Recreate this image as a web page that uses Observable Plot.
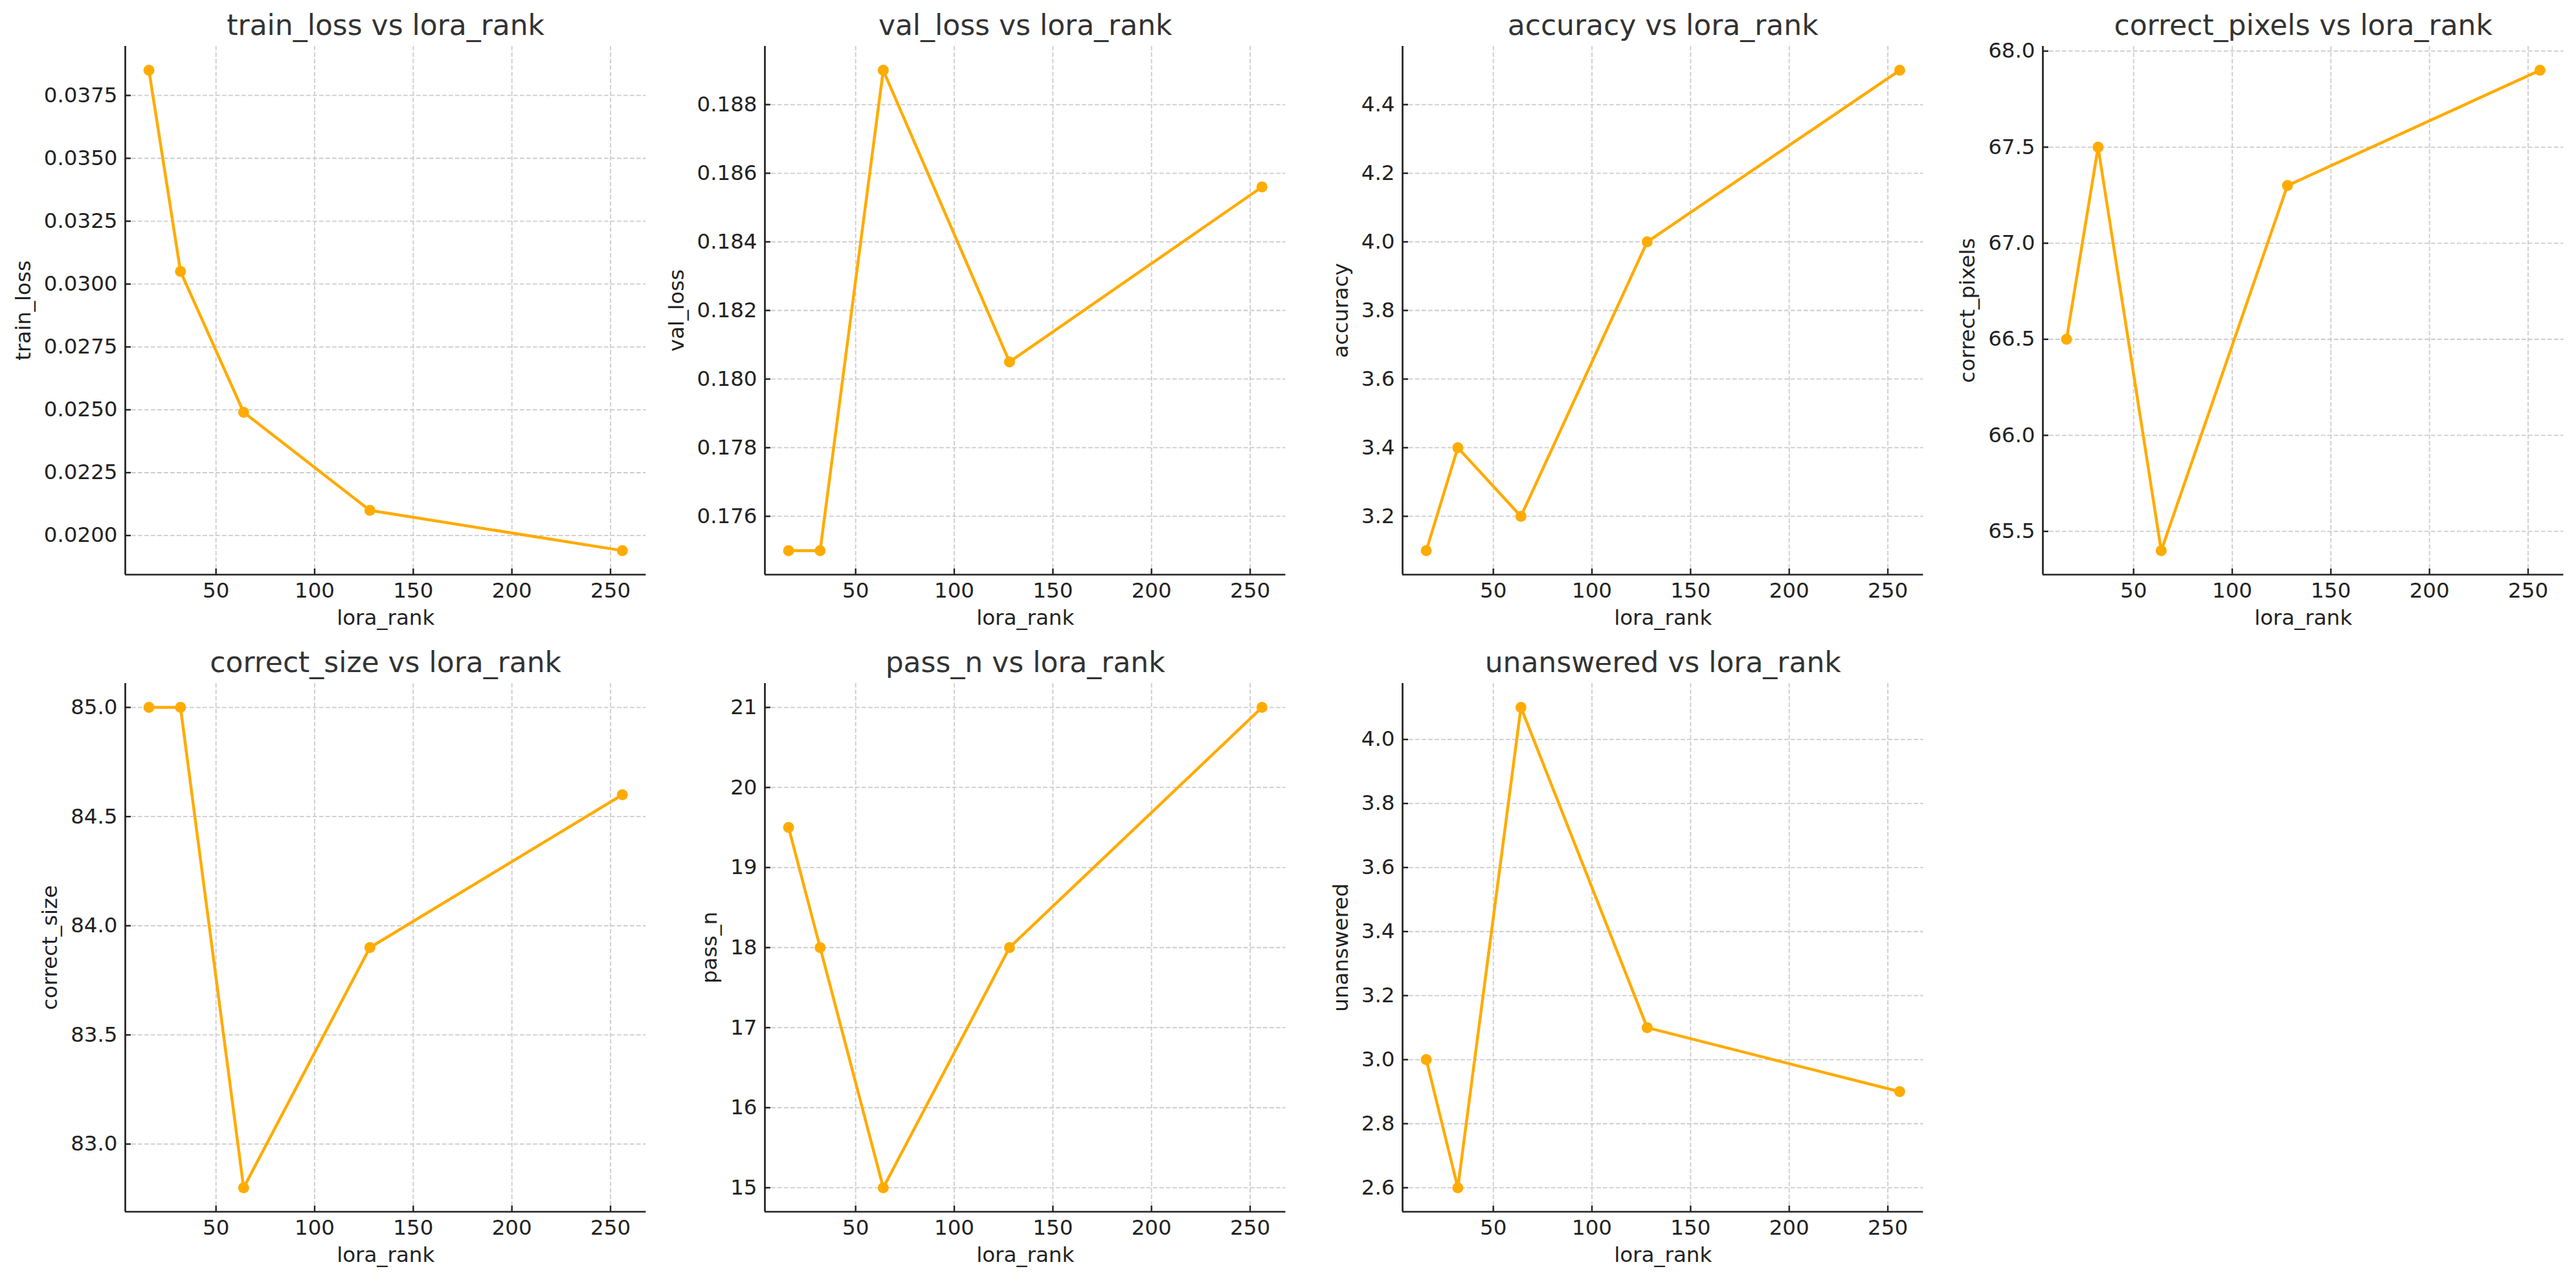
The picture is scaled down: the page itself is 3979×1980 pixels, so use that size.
<!DOCTYPE html>
<html>
<head>
<meta charset="utf-8">
<script src="https://cdn.jsdelivr.net/npm/d3@7"></script>
<script src="https://cdn.jsdelivr.net/npm/@observablehq/plot@0.6"></script>
<style>
html, body { margin: 0; padding: 0; background: #fff; }
#chart { position: relative; width: 3979px; height: 1980px; background: #fff; overflow: hidden; }
#chart svg { position: absolute; overflow: visible; max-width: none; background: transparent; }
</style>
</head>
<body>
<div id="chart"></div>
<script>
// ---- data ----
const loraRank = [16, 32, 64, 128, 256];
const trainLoss = [0.0385, 0.0305, 0.0249, 0.0210, 0.0194];
const valLoss = [0.1750, 0.1750, 0.1890, 0.1805, 0.1856];
const accuracy = [3.1, 3.4, 3.2, 4.0, 4.5];
const correctPixels = [66.5, 67.5, 65.4, 67.3, 67.9];
const correctSize = [85.0, 85.0, 82.8, 83.9, 84.6];
const passN = [19.5, 18, 15, 18, 21];
const unanswered = [3.0, 2.6, 4.1, 3.1, 2.9];

// ---- tick labels ----
const xTicks = [50, 100, 150, 200, 250];
const trainLossTicks = [0.0200, 0.0225, 0.0250, 0.0275, 0.0300, 0.0325, 0.0350, 0.0375];
const valLossTicks = [0.176, 0.178, 0.180, 0.182, 0.184, 0.186, 0.188];
const accuracyTicks = [3.2, 3.4, 3.6, 3.8, 4.0, 4.2, 4.4];
const correctPixelsTicks = [65.5, 66.0, 66.5, 67.0, 67.5, 68.0];
const correctSizeTicks = [83.0, 83.5, 84.0, 84.5, 85.0];
const passNTicks = [15, 16, 17, 18, 19, 20, 21];
const unansweredTicks = [2.6, 2.8, 3.0, 3.2, 3.4, 3.6, 3.8, 4.0];

const xName = "lora_rank";
const metricNames = ["train_loss", "val_loss", "accuracy", "correct_pixels", "correct_size", "pass_n", "unanswered"];
const metricValues = [trainLoss, valLoss, accuracy, correctPixels, correctSize, passN, unanswered];
const metricTicks = [trainLossTicks, valLossTicks, accuracyTicks, correctPixelsTicks, correctSizeTicks, passNTicks, unansweredTicks];
const metricDigits = [4, 3, 1, 1, 1, 0, 1];

// ---- layout / style ----
const colLeft = [192.5, 1181.4, 2166, 3154.5];
const rowTop = [71, 1055];
const frameW = 804.4, frameH = 816;
const ML = 210, MT = 90, MR = 20, MB = 110;
const COLOR = "#ffab00";
const INK = "#222222";
const TICK_FS = 32.5, TITLE_FS = 44;
const FONT = '"DejaVu Sans", "Liberation Sans", sans-serif';

const ctx = document.createElement("canvas").getContext("2d");
ctx.font = `${TICK_FS}px "DejaVu Sans"`;

const chart = document.getElementById("chart");

metricNames.forEach((name, i) => {
  const values = metricValues[i];
  const ticks = metricTicks[i];
  const fmt = d3.format(`.${metricDigits[i]}f`);
  const data = loraRank.map((r, j) => ({rank: r, value: values[j]}));

  const [x0, x1] = d3.extent(loraRank);
  const xPad = (x1 - x0) * 0.05;
  const xDomain = [x0 - xPad, x1 + xPad];
  const [y0, y1] = d3.extent(values);
  const yPad = (y1 - y0) * 0.05;
  const yDomain = [y0 - yPad, y1 + yPad];

  const maxTickW = d3.max(ticks, t => ctx.measureText(fmt(t)).width);
  const yLabelOffset = maxTickW + 12 + 13 + 7.7 + 0.71 * TICK_FS;

  const col = i % 4, row = Math.floor(i / 4);

  const svg = Plot.plot({
    width: ML + frameW + MR,
    height: MT + frameH + MB,
    marginLeft: ML, marginTop: MT, marginRight: MR, marginBottom: MB,
    style: {fontFamily: FONT, fontSize: `${TICK_FS}px`, color: INK, background: "transparent", overflow: "visible"},
    x: {domain: xDomain, nice: false},
    y: {domain: yDomain, nice: false},
    marks: [
      Plot.gridX(xTicks, {stroke: "#cccccc", strokeOpacity: 1, strokeWidth: 1.8, strokeDasharray: "6.7,3.3"}),
      Plot.gridY(ticks, {stroke: "#cccccc", strokeOpacity: 1, strokeWidth: 1.8, strokeDasharray: "6.7,3.3"}),
      Plot.ruleX([xDomain[0]], {stroke: INK, strokeWidth: 2.7}),
      Plot.ruleY([yDomain[0]], {stroke: INK, strokeWidth: 2.7}),
      Plot.tickX(xTicks, {x: d => d, stroke: INK, strokeWidth: 2.4, insetTop: frameH - 9}),
      Plot.tickY(ticks, {y: d => d, stroke: INK, strokeWidth: 2.4, insetRight: frameW - 9}),
      Plot.line(data, {x: "rank", y: "value", stroke: COLOR, strokeWidth: 4.5}),
      Plot.dot(data, {x: "rank", y: "value", r: 8.5, fill: COLOR, stroke: "none"}),
      Plot.axisX({
        ticks: xTicks, tickSize: 0, tickPadding: 12, tickFormat: d => String(d),
        label: xName, labelAnchor: "center", labelArrow: "none", labelOffset: 78,
        color: INK, fontSize: TICK_FS
      }),
      Plot.axisY({
        ticks: ticks, tickSize: 0, tickPadding: 12, tickFormat: fmt,
        label: name, labelAnchor: "center", labelArrow: "none", labelOffset: yLabelOffset,
        color: INK, fontSize: TICK_FS
      }),
      Plot.text([`${name} vs ${xName}`], {
        text: d => d, frameAnchor: "top", dy: -17, lineAnchor: "bottom",
        fontSize: TITLE_FS, fill: "#333333"
      })
    ]
  });
  svg.style.left = `${colLeft[col] - ML}px`;
  svg.style.top = `${rowTop[row] - MT}px`;
  chart.appendChild(svg);
});
</script>
</body>
</html>
